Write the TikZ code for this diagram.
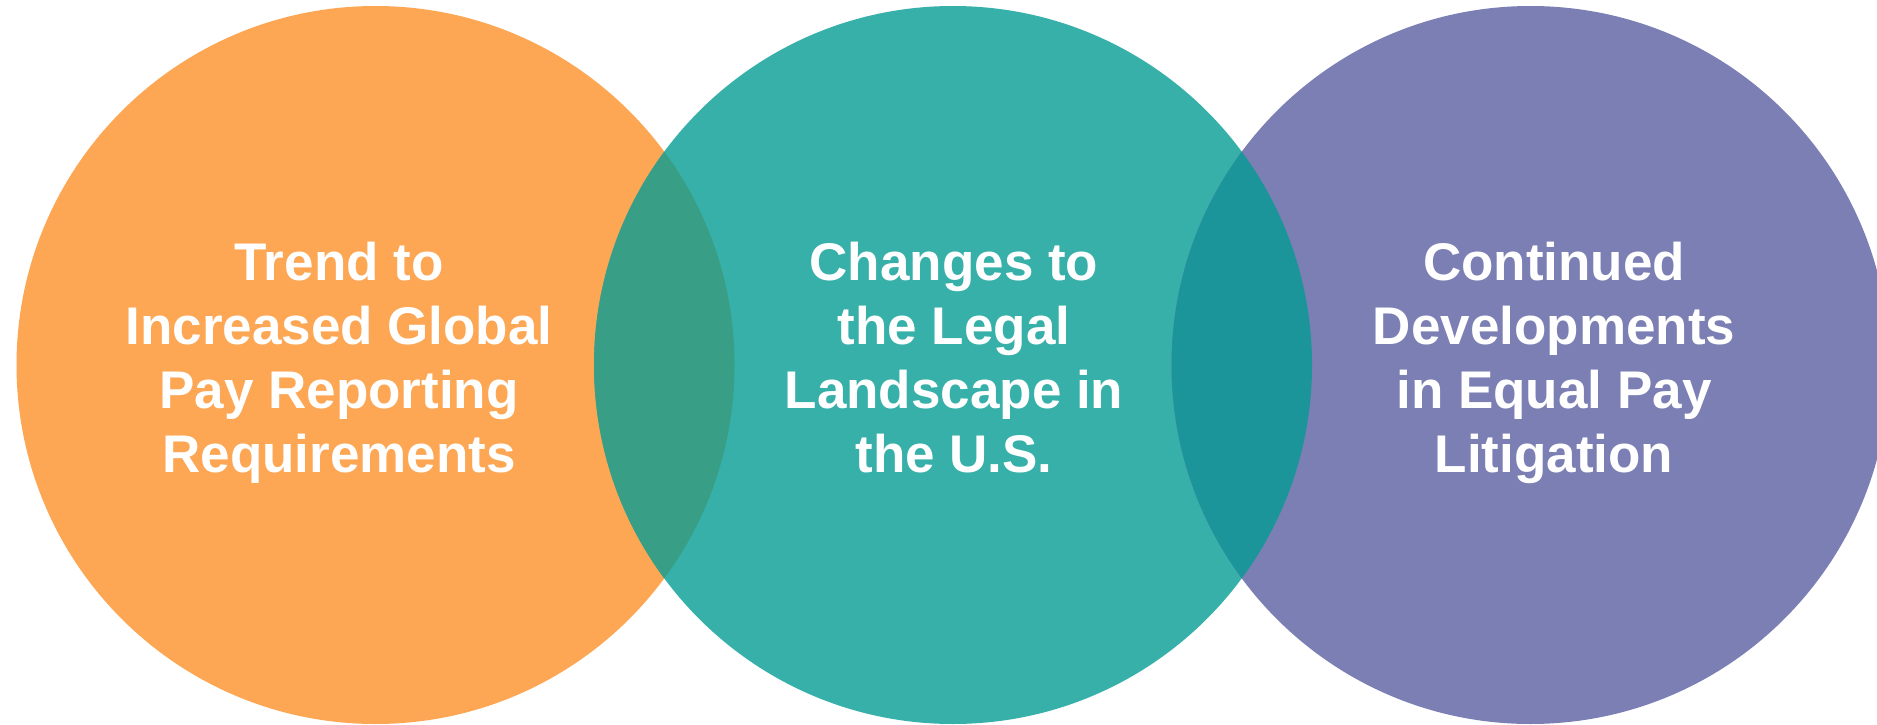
\documentclass[tikz,border=0pt]{standalone}
\usepackage{fontspec}
\setmainfont{Liberation Sans}
\definecolor{orangeA}{RGB}{253,166,83}
\definecolor{tealA}{RGB}{54,176,169}
\definecolor{purpleA}{RGB}{123,127,180}
\definecolor{lensOT}{RGB}{57,158,134}
\definecolor{lensTP}{RGB}{27,149,154}
\begin{document}
\begin{tikzpicture}[x=1pt,y=-1pt,
  disc/.style={circle, minimum size=718pt, inner sep=0pt, draw=none},
  caption/.style={text=white, font=\bfseries\fontsize{53}{64}\selectfont,
    align=center, inner sep=0pt, anchor=base}]
\useasboundingbox (0,0) rectangle (1877,725);
\clip (0,0) rectangle (1877,725);

% three overlapping circles
\node[disc, fill=orangeA] (c1) at (375.5,365) {};
\node[disc, fill=tealA]   (c2) at (953,365) {};
\node[disc, fill=purpleA] (c3) at (1530.5,365) {};

% darker lens where neighbouring circles overlap
\begin{scope}
  \clip (c1.center) circle[radius=359pt];
  \fill[lensOT] (c2.center) circle[radius=359pt];
\end{scope}
\begin{scope}
  \clip (c2.center) circle[radius=359pt];
  \fill[lensTP] (c3.center) circle[radius=359pt];
\end{scope}

% captions (base anchor sits on the last line's baseline)
\node[caption] (t1) at (339,472) {Trend to\\Increased Global\\Pay Reporting\\Requirements};
\node[caption] (t2) at (954,472) {Changes to\\the Legal\\Landscape in\\the U.S.};
\node[caption] (t3) at (1554,472) {Continued\\Developments\\in Equal Pay\\Litigation};
\end{tikzpicture}
\end{document}
